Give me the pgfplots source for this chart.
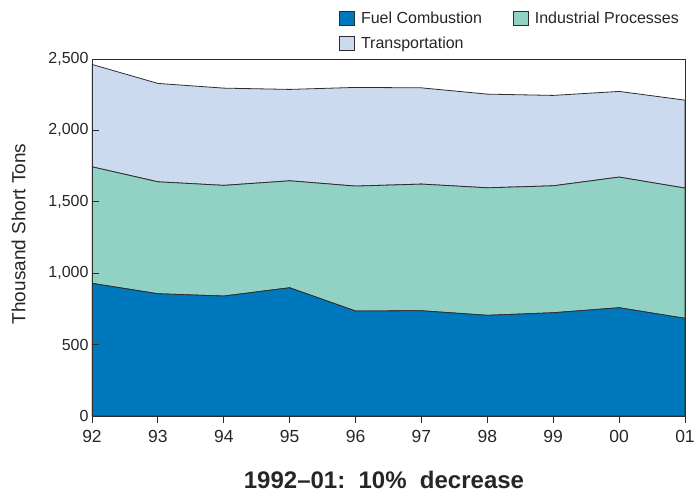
\documentclass[border=0pt]{standalone}
\usepackage{pgfplots}
\pgfplotsset{compat=1.18}
\usepackage{fontspec}
\setmainfont{Liberation Sans}
\definecolor{fuel}{RGB}{0,120,190}
\definecolor{indu}{RGB}{146,210,196}
\definecolor{trans}{RGB}{204,218,240}
\definecolor{edge}{RGB}{45,45,45}
\begin{document}
\begin{tikzpicture}[x=1pt,y=1pt]
\useasboundingbox (-92,-79) rectangle (603,416);
\begin{axis}[
  at={(0,0)}, anchor=south west,
  scale only axis, width=593pt, height=357pt,
  xmin=0, xmax=9, ymin=0, ymax=2500,
  stack plots=y,
  axis on top,
  axis line style={edge, line width=0.9pt},
  xtick={0,...,9},
  xticklabels={92,93,94,95,96,97,98,99,00,01},
  ytick={0,500,1000,1500,2000,2500},
  x tick label style={yshift=-4pt, font=\fontsize{17.5}{19}\selectfont},
  y tick label style={font=\fontsize{16}{18}\selectfont},
  tick style={edge, line width=0.9pt},
  xtick align=outside, ytick align=inside,
  major tick length=7pt,
  xtick pos=bottom, ytick pos=left,
  /pgf/number format/assume math mode=true,
  /pgf/number format/1000 sep={,},
  tick label style={text=black!85},
  ylabel={Thousand Short Tons},
  every axis y label/.style={at={(rel axis cs:-0.124,0.51)}, anchor=center, rotate=90,
    font=\fontsize{19}{21}\selectfont, text=black!85},
  legend columns=2,
  legend style={draw=none, fill=none, at={(rel axis cs:0.4165,1.137)}, anchor=north west,
    inner sep=0pt,
    font=\fontsize{16}{18}\selectfont, text=black!85,
    /tikz/every even column/.append style={column sep=29pt},
    row sep=8pt},
  legend cell align=left,
  legend image code/.code={\draw[#1, draw=edge, line width=0.9pt] (0pt,-7pt) rectangle (15pt,7pt); \path (19pt,0pt);},
]
\addplot[fill=fuel, draw=edge, line width=0.8pt] coordinates {
(0,929) (1,856) (2,840) (3,898) (4,735) (5,737) (6,705) (7,723) (8,758) (9,684)} \closedcycle;
\addlegendentry{Fuel Combustion}
\addplot[fill=indu, draw=edge, line width=0.8pt] coordinates {
(0,816) (1,784) (2,775) (3,749) (4,875) (5,887) (6,893) (7,889) (8,915) (9,912)} \closedcycle;
\addlegendentry{Industrial Processes}
\addplot[fill=trans, draw=edge, line width=0.8pt] coordinates {
(0,717) (1,689) (2,681) (3,640) (4,691) (5,674) (6,656) (7,633) (8,600) (9,616)} \closedcycle;
\addlegendentry{Transportation}
\end{axis}
\node[inner sep=0pt, font=\bfseries\fontsize{24}{26}\selectfont, text=black!85] at (292,-64) {1992–01:\ \ 10\%\ \ decrease};
\end{tikzpicture}
\end{document}
